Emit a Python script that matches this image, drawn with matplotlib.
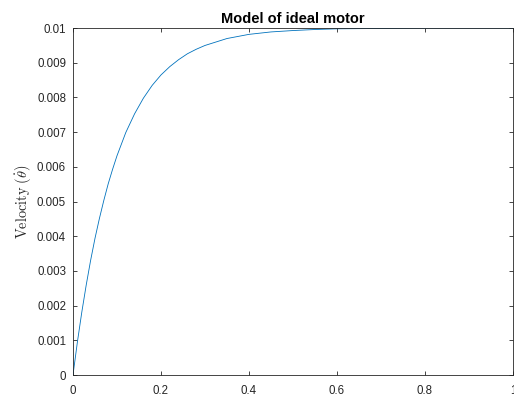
import numpy as np
import matplotlib
matplotlib.use("Agg")
import matplotlib.pyplot as plt

# time (s) and velocity
t = [0, 0.01, 0.02, 0.03, 0.04, 0.05, 0.06, 0.07, 0.08, 0.09, 0.10,
     0.12, 0.14, 0.16, 0.18, 0.20, 0.22, 0.24, 0.26, 0.28, 0.30,
     0.35, 0.40, 0.45, 0.50, 0.55, 0.60, 0.70, 0.80, 0.90, 1.00]
velocity = [0, 0.00095, 0.00181, 0.00259, 0.00330, 0.00394, 0.00451, 0.00503,
            0.00551, 0.00593, 0.00632, 0.00699, 0.00753, 0.00798, 0.00835,
            0.00865, 0.00889, 0.00909, 0.00926, 0.00939, 0.00950, 0.00970,
            0.00982, 0.00989, 0.00993, 0.00996, 0.00998, 0.00999, 0.01, 0.01, 0.01]

xticks = [0, 0.2, 0.4, 0.6, 0.8, 1]
xticklabels = ["0", "0.2", "0.4", "0.6", "0.8", "1"]
yticks = [0, 0.001, 0.002, 0.003, 0.004, 0.005, 0.006, 0.007, 0.008, 0.009, 0.01]
yticklabels = ["0", "0.001", "0.002", "0.003", "0.004", "0.005",
               "0.006", "0.007", "0.008", "0.009", "0.01"]

plt.rcParams['font.family'] = ['Liberation Sans', 'DejaVu Sans']
plt.rcParams['mathtext.fontset'] = 'cm'

axcol = (0.15, 0.15, 0.15)
fig = plt.figure(figsize=(5.14, 3.96), dpi=100)
ax = fig.add_axes([0.142, 0.053, 0.856, 0.876])
ax.plot(t, velocity, color='#0072BD', linewidth=0.6)
ax.set_xlim(0, 1)
ax.set_ylim(0, 0.01)
ax.set_xticks(xticks)
ax.set_xticklabels(xticklabels)
ax.set_yticks(yticks)
ax.set_yticklabels(yticklabels)
ax.tick_params(direction='in', top=True, right=True, length=3, width=0.6,
               labelsize=8.3, colors=axcol)
ax.tick_params(axis='x', pad=7)
ax.tick_params(axis='y', pad=5)
for s in ax.spines.values():
    s.set_color(axcol)
    s.set_linewidth(0.6)
ax.set_title("Model of ideal motor", fontsize=10.5, fontweight='bold', pad=4)
ax.set_ylabel(r'$\mathrm{Velocity}\ (\dot{\theta})$', fontsize=10.3, color=axcol, labelpad=2)

fig.savefig("out.png", dpi=100)
